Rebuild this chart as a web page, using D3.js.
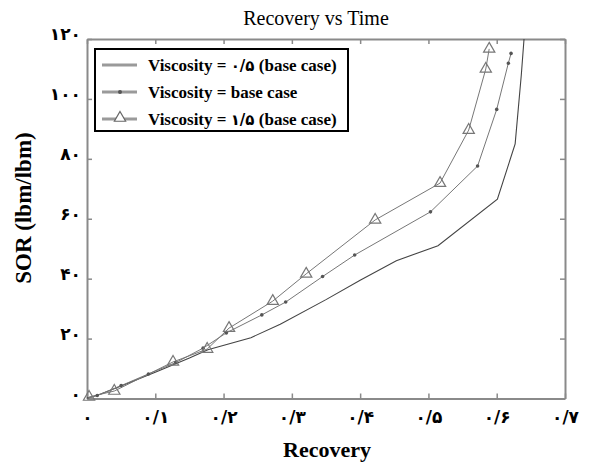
<!DOCTYPE html>
<html>
<head>
<meta charset="utf-8">
<script src="https://cdn.jsdelivr.net/npm/d3@7"></script>
<style>
  html, body { margin: 0; padding: 0; background: #fff; }
  svg { display: block; }
</style>
</head>
<body>
<svg id="chart" width="589" height="466"></svg>
<script>
// ---- data ----
const title = "Recovery vs Time";
const xLabel = "Recovery";
const yLabel = "SOR (lbm/lbm)";
const seriesNames = [
  ["Viscosity = ", "۰/۵", " (base case)"],
  ["Viscosity = base case", "", ""],
  ["Viscosity = ", "۱/۵", " (base case)"]
];

const recovery1 = [0, 0.02, 0.05, 0.10, 0.15, 0.177, 0.24, 0.283, 0.35, 0.40, 0.453, 0.514, 0.601, 0.627, 0.636, 0.640];
const sor1      = [0, 1.5, 4.2, 8.8, 13.5, 16.3, 20.3, 24.8, 33, 39.5, 46, 51, 66.5, 85, 108, 120];

const recovery2 = [0, 0.015, 0.05, 0.09, 0.13, 0.17, 0.204, 0.256, 0.291, 0.345, 0.392, 0.503, 0.572, 0.600, 0.617, 0.621];
const sor2      = [0, 1, 4.3, 8.2, 12, 16.8, 21.9, 27.9, 32.2, 40.7, 47.9, 62.3, 77.6, 96.5, 111.9, 115.2];

const recovery3 = [0.003, 0.04, 0.126, 0.176, 0.208, 0.272, 0.321, 0.422, 0.517, 0.559, 0.584, 0.589];
const sor3      = [0.5, 2.5, 12.2, 16.5, 23.5, 32.5, 41.6, 59.6, 71.9, 89.6, 110, 116.7];

const xTicks = [0, 0.1, 0.2, 0.3, 0.4, 0.5, 0.6, 0.7];
const xTickLabels = ["۰", "۰/۱", "۰/۲", "۰/۳", "۰/۴", "۰/۵", "۰/۶", "۰/۷"];
const yTicks = [0, 20, 40, 60, 80, 100, 120];
const yTickLabels = ["۰", "۲۰", "۴۰", "۶۰", "۸۰", "۱۰۰", "۱۲۰"];

// ---- layout ----
const svg = d3.select("#chart");
const margin = {left: 87, right: 24, top: 39, bottom: 67.5};
const W = 589, H = 466;
const x = d3.scaleLinear().domain([0, 0.7]).range([margin.left, W - margin.right]);
const y = d3.scaleLinear().domain([0, 120]).range([H - margin.bottom, margin.top]);

const serif = "'Liberation Serif', 'Times New Roman', serif";
const digitFont = "'DejaVu Sans', sans-serif";
const frameColor = "#8a8a8a";

// clip
svg.append("clipPath").attr("id", "clip").append("rect")
  .attr("x", x(0)).attr("y", y(120)).attr("width", x(0.7) - x(0)).attr("height", y(0) - y(120));

// axes (inward ticks on all sides)
const tickLen = 5;
const axB = svg.append("g").attr("transform", `translate(0,${y(0)})`)
  .call(d3.axisBottom(x).tickValues(xTicks).tickSizeInner(-tickLen).tickSizeOuter(0).tickFormat((d, i) => xTickLabels[i]));
const axT = svg.append("g").attr("transform", `translate(0,${y(120)})`)
  .call(d3.axisTop(x).tickValues(xTicks).tickSizeInner(-tickLen).tickSizeOuter(0).tickFormat(""));
const axL = svg.append("g").attr("transform", `translate(${x(0)},0)`)
  .call(d3.axisLeft(y).tickValues(yTicks).tickSizeInner(-tickLen).tickSizeOuter(0).tickFormat((d, i) => yTickLabels[i]));
const axR = svg.append("g").attr("transform", `translate(${x(0.7)},0)`)
  .call(d3.axisRight(y).tickValues(yTicks).tickSizeInner(-tickLen).tickSizeOuter(0).tickFormat(""));

[axB, axT, axL, axR].forEach(a => {
  a.select(".domain").attr("stroke", frameColor).attr("stroke-width", 2);
  a.selectAll(".tick line").attr("stroke", frameColor).attr("stroke-width", 1.5);
});
axB.selectAll(".tick text")
  .attr("font-family", digitFont).attr("font-weight", "bold").attr("font-size", 17)
  .attr("fill", "#000").attr("y", 12).attr("dy", "0.71em");
axL.selectAll(".tick text")
  .attr("font-family", digitFont).attr("font-weight", "bold").attr("font-size", 17)
  .attr("fill", "#000").attr("x", -6).attr("dy", "0.05em");

// lines
const line = d3.line().x(d => x(d[0])).y(d => y(d[1]));
const s1 = recovery1.map((r, i) => [r, sor1[i]]);
const s2 = recovery2.map((r, i) => [r, sor2[i]]);
const s3 = recovery3.map((r, i) => [r, sor3[i]]);

const plot = svg.append("g").attr("clip-path", "url(#clip)");
plot.append("path").datum(s1).attr("d", line).attr("fill", "none").attr("stroke", "#444").attr("stroke-width", 1.1);
plot.append("path").datum(s2).attr("d", line).attr("fill", "none").attr("stroke", "#777").attr("stroke-width", 1);
plot.append("path").datum(s3).attr("d", line).attr("fill", "none").attr("stroke", "#777").attr("stroke-width", 1);

// markers
plot.selectAll(".dot2").data(s2).enter().append("circle")
  .attr("cx", d => x(d[0])).attr("cy", d => y(d[1])).attr("r", 1.8).attr("fill", "#555");
const tri = d3.symbol().type(d3.symbolTriangle).size(55);
svg.append("g").selectAll(".tri3").data(s3).enter().append("path")
  .attr("d", tri).attr("transform", d => `translate(${x(d[0])},${y(d[1])})`)
  .attr("fill", "none").attr("stroke", "#777").attr("stroke-width", 1.2);

// legend
const lg = svg.append("g");
lg.append("rect").attr("x", 95).attr("y", 49).attr("width", 253).attr("height", 82)
  .attr("fill", "#fff").attr("stroke", "#000").attr("stroke-width", 2);
const rowsY = [65, 92, 119];
seriesNames.forEach((parts, i) => {
  const ry = rowsY[i];
  lg.append("line").attr("x1", 102).attr("x2", 137).attr("y1", ry).attr("y2", ry)
    .attr("stroke", "#9a9a9a").attr("stroke-width", 3);
  if (i === 1) lg.append("circle").attr("cx", 120).attr("cy", ry).attr("r", 2).attr("fill", "#555");
  if (i === 2) lg.append("path").attr("d", tri).attr("transform", `translate(120,${ry - 1})`)
    .attr("fill", "#fff").attr("stroke", "#666").attr("stroke-width", 1.2);
  const t = lg.append("text").attr("x", 148).attr("y", ry + 5.5)
    .attr("font-family", serif).attr("font-weight", "bold").attr("font-size", 17).attr("fill", "#000");
  t.append("tspan").text(parts[0]);
  if (parts[1]) t.append("tspan").attr("font-family", digitFont).attr("font-size", 15).text(parts[1]);
  if (parts[2]) t.append("tspan").text(parts[2]);
});

// titles
svg.append("text").attr("x", 316).attr("y", 25).attr("text-anchor", "middle").text(title)
  .attr("font-family", serif).attr("font-size", 20).attr("fill", "#000");
svg.append("text").attr("x", 327).attr("y", 457).attr("text-anchor", "middle").text(xLabel)
  .attr("font-family", serif).attr("font-weight", "bold").attr("font-size", 22).attr("fill", "#000");
svg.append("text").attr("transform", "translate(31,208) rotate(-90)").attr("text-anchor", "middle").text(yLabel)
  .attr("font-family", serif).attr("font-weight", "bold").attr("font-size", 23).attr("fill", "#000");
</script>
</body>
</html>
